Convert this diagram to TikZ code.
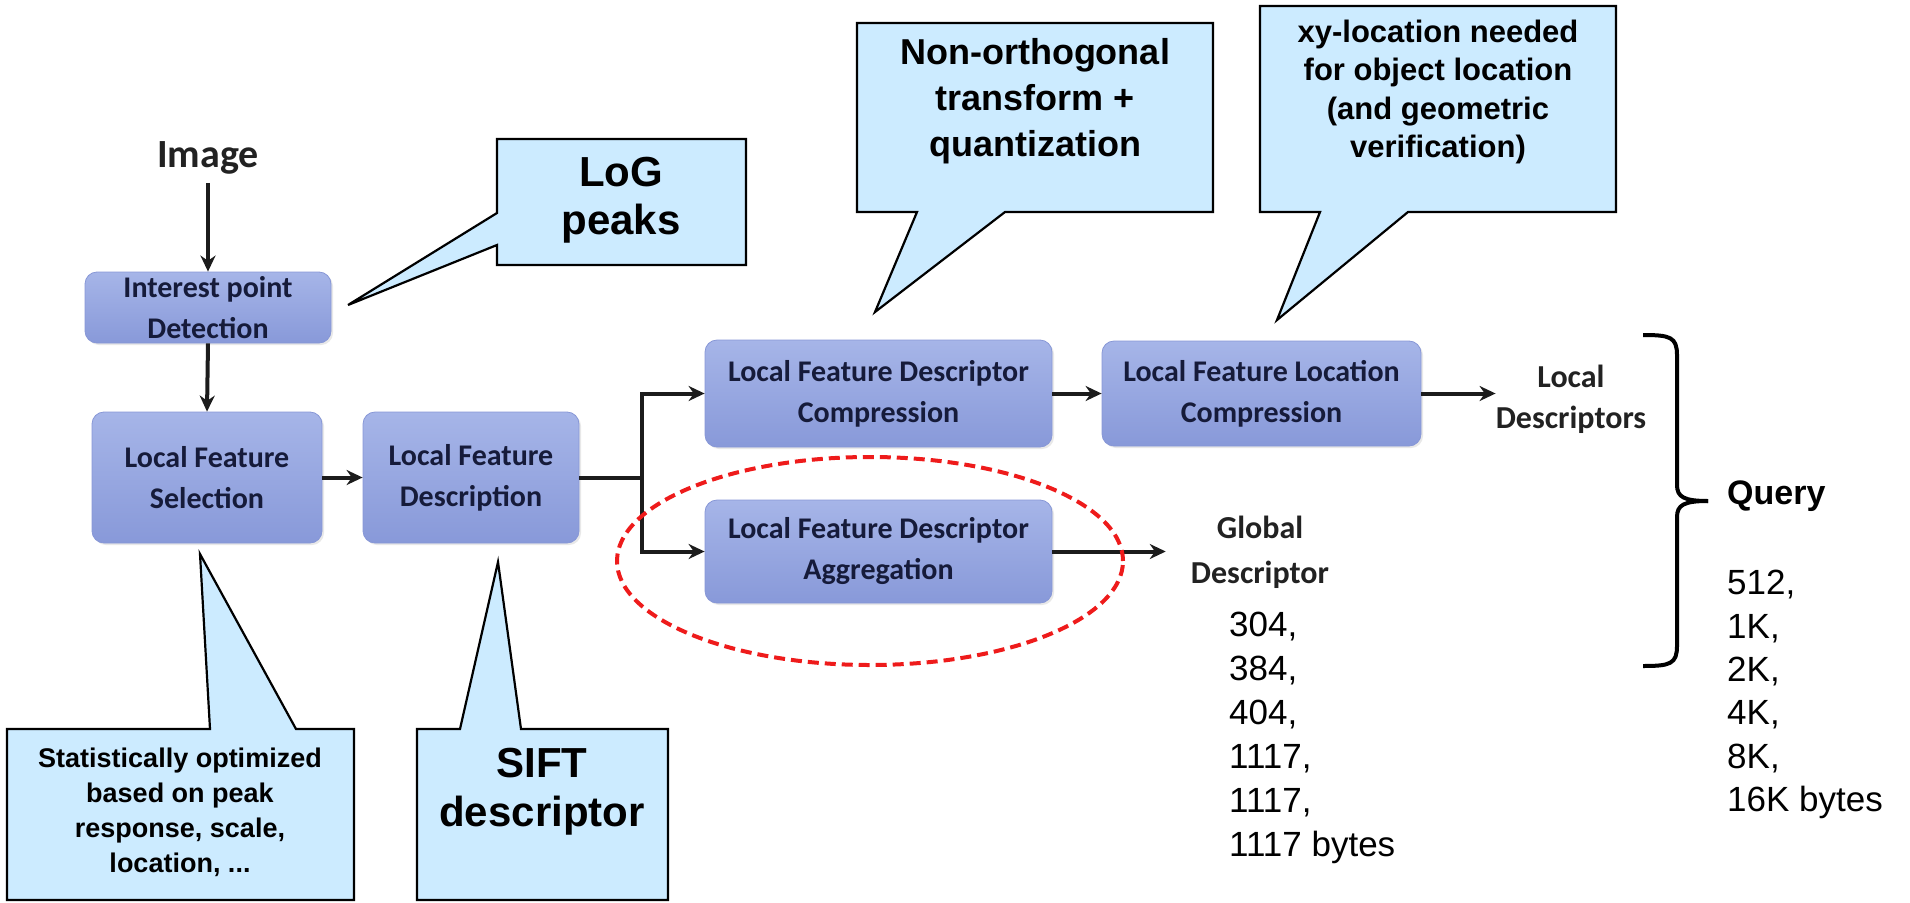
\documentclass[tikz,border=0pt]{standalone}
\usepackage{fontspec}
\setmainfont{Liberation Sans}
\newfontfamily\carl{Carlito}
\usetikzlibrary{arrows.meta,shapes.geometric,shadows}
\definecolor{boxtop}{HTML}{A6B5E8}
\definecolor{boxbot}{HTML}{8899D9}
\definecolor{boxline}{HTML}{8797D6}
\definecolor{boxtext}{HTML}{161B3A}
\definecolor{callfill}{HTML}{CCEBFF}
\definecolor{reddash}{HTML}{EE1B1B}
\definecolor{darktext}{HTML}{222222}
\definecolor{arrowcol}{HTML}{1C1C1C}
\begin{document}
\begin{tikzpicture}[x=1pt,y=-1pt,
  stage/.style={rounded corners=12pt, top color=boxtop, bottom color=boxbot, draw=boxline,
    line width=0.8pt, text=boxtext, font=\carl\bfseries\fontsize{30}{41}\selectfont,
    align=center, inner sep=0pt,
    drop shadow={opacity=0.18, shadow xshift=2pt, shadow yshift=-2pt}},
  arr/.style={draw=arrowcol, line width=4pt, -{Stealth[length=16pt,width=15pt]}},
  callout/.style={fill=callfill, draw=black, line width=2.2pt, line join=miter},
  calltext/.style={align=center, inner sep=0pt, anchor=north, text=black},
  flowlabel/.style={font=\carl\bfseries\fontsize{32}{43}\selectfont, text=darktext, align=center, inner sep=0pt, anchor=north},
  sizes/.style={font=\fontsize{35}{44}\selectfont, align=left, inner sep=0pt, anchor=north west}
]
\useasboundingbox (0,0) rectangle (1910,902);

% ---- callouts (drawn shapes) ----
\path[callout] (497,139) -- (746,139) -- (746,265) -- (497,265) -- (497,245) -- (348,305) -- (497,213) -- cycle;
\path[callout] (857,23) -- (1213,23) -- (1213,212) -- (1005,212) -- (875,312) -- (917,212) -- (857,212) -- cycle;
\path[callout] (1260,6) -- (1616,6) -- (1616,212) -- (1408,212) -- (1277,320) -- (1320,212) -- (1260,212) -- cycle;
\path[callout] (7,729) -- (210,729) -- (200,554) -- (296,729) -- (354,729) -- (354,900) -- (7,900) -- cycle;
\path[callout] (417,729) -- (460,729) -- (498,562) -- (521,729) -- (668,729) -- (668,900) -- (417,900) -- cycle;

\node[calltext, font=\bfseries\fontsize{42}{48}\selectfont] (tlog) at (621,157) {LoG\\peaks};
\node[calltext, font=\bfseries\fontsize{36}{46}\selectfont] (tnon) at (1035,38) {Non-orthogonal\\transform +\\quantization};
\node[calltext, font=\bfseries\fontsize{31}{38.3}\selectfont] (txy) at (1438,20) {xy-location needed\\for object location\\(and geometric\\verification)};
\node[calltext, font=\bfseries\fontsize{27}{35}\selectfont] (tstat) at (180,747.5) {Statistically optimized\\based on peak\\response, scale,\\location, ...};
\node[calltext, font=\bfseries\fontsize{42}{49}\selectfont] (tsift) at (542,748) {SIFT\\descriptor};

% ---- processing stages ----
\node[font=\carl\bfseries\fontsize{40}{44}\selectfont, text=darktext, anchor=base, inner sep=9pt] (img) at (208,167) {Image};
\node[stage, minimum width=246pt, minimum height=71pt] (int) at (208,307.5) {Interest point\\Detection};
\node[stage, minimum width=230pt, minimum height=131pt] (sel) at (207,477.5) {Local Feature\\Selection};
\node[stage, minimum width=216pt, minimum height=131pt] (desc) at (471,477.5) {Local Feature\\Description};
\node[stage, minimum width=347pt, minimum height=107pt] (comp) at (878.5,393.5) {Local Feature Descriptor\\Compression};
\node[stage, minimum width=319pt, minimum height=105pt] (loc) at (1261.5,393.5) {Local Feature Location\\Compression};
\node[stage, minimum width=347pt, minimum height=103pt] (agg) at (878.5,551.5) {Local Feature Descriptor\\Aggregation};

\node[flowlabel, font=\carl\bfseries\fontsize{32}{41}\selectfont] (ld) at (1571,365) {Local\\Descriptors};
\node[flowlabel, font=\carl\bfseries\fontsize{32}{45}\selectfont] (gd) at (1260,516) {Global\\Descriptor};

\coordinate (br) at (642,477.5);

% ---- connectors ----
\draw[arr] (img.south) -- (int.north);
\draw[arr] (int.south) -- (sel.north);
\draw[arr] (sel.east) -- (desc.west);
\draw[draw=arrowcol, line width=4pt] (desc.east) -- (br);
\draw[arr] (br) |- (comp.west);
\draw[arr] (br) |- (agg.west);
\draw[arr] (comp.east) -- (loc.west);
\draw[arr] (loc.east) -- (loc.east -| ld.west);
\draw[arr] (agg.east) -- ([xshift=-25pt]agg.east -| gd.west);

% ---- highlight ----
\node[draw=reddash, dash pattern=on 11pt off 6pt, line width=4pt, ellipse,
  minimum width=506pt, minimum height=208pt, inner sep=0pt] (hl) at (870,561) {};

% ---- sizes ----
\node[sizes] (gsz) at (1229,612) {304,\\384,\\404,\\1117,\\1117,\\1117 bytes};

% ---- brace and query ----
\draw[line width=4pt, line cap=butt] (1643,335) .. controls (1670,335) and (1677,337) .. (1677,355)
  -- (1677,485) .. controls (1677,497) and (1684,501) .. (1708,501);
\draw[line width=4pt, line cap=butt] (1643,666) .. controls (1670,666) and (1677,664) .. (1677,646)
  -- (1677,517) .. controls (1677,505) and (1684,501) .. (1708,501);
\node[font=\bfseries\fontsize{34}{40}\selectfont, anchor=base west, inner sep=0pt] (query) at (1727,504) {Query};
\node[sizes, font=\fontsize{35}{43.4}\selectfont] (qsz) at (1727,570) {512,\\1K,\\2K,\\4K,\\8K,\\16K bytes};
\end{tikzpicture}
\end{document}
